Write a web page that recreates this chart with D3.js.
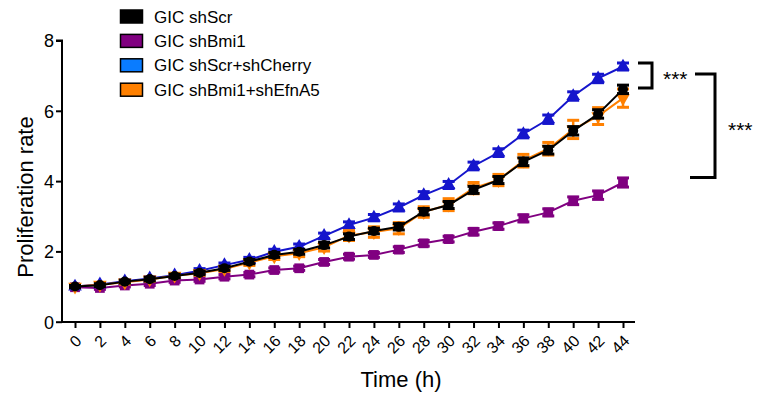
<!DOCTYPE html>
<html>
<head>
<meta charset="utf-8">
<script src="https://cdn.jsdelivr.net/npm/d3@7"></script>
<style>
  body { margin: 0; background: #fff; }
  svg text { font-family: "Liberation Sans", Arial, sans-serif; fill: #000; }
</style>
</head>
<body>
<svg id="chart" width="769" height="399"></svg>
<script>
// time points (h)
const hours = [0,2,4,6,8,10,12,14,16,18,20,22,24,26,28,30,32,34,36,38,40,42,44];

const shScr      = [1.00,1.04,1.14,1.21,1.30,1.39,1.52,1.71,1.90,1.99,2.18,2.42,2.58,2.70,3.13,3.32,3.75,4.03,4.55,4.88,5.43,5.91,6.61];
const shBmi1     = [0.98,0.96,1.03,1.08,1.17,1.20,1.28,1.34,1.47,1.52,1.70,1.85,1.90,2.05,2.23,2.35,2.56,2.72,2.94,3.11,3.44,3.60,3.96];
const shCherry   = [1.00,1.06,1.15,1.23,1.32,1.45,1.61,1.76,1.99,2.13,2.44,2.75,2.96,3.25,3.60,3.89,4.43,4.81,5.34,5.76,6.42,6.92,7.26];
const shEfnA5    = [1.00,1.05,1.12,1.20,1.31,1.38,1.50,1.68,1.86,1.95,2.12,2.45,2.55,2.66,3.12,3.33,3.80,4.03,4.58,4.92,5.47,5.85,6.36];

const errScr     = [0.03,0.04,0.04,0.05,0.05,0.05,0.06,0.06,0.07,0.07,0.08,0.08,0.08,0.09,0.09,0.10,0.10,0.10,0.11,0.11,0.12,0.12,0.12];
const errBmi1    = [0.03,0.04,0.04,0.05,0.05,0.05,0.06,0.06,0.06,0.06,0.07,0.07,0.07,0.08,0.08,0.08,0.09,0.09,0.10,0.10,0.11,0.12,0.13];
const errCherry  = [0.03,0.04,0.04,0.05,0.05,0.06,0.06,0.07,0.07,0.08,0.08,0.09,0.09,0.10,0.10,0.10,0.11,0.11,0.11,0.12,0.12,0.12,0.10];
const errEfnA5   = [0.03,0.04,0.05,0.05,0.06,0.06,0.07,0.08,0.09,0.10,0.11,0.14,0.15,0.16,0.15,0.17,0.16,0.16,0.18,0.18,0.26,0.24,0.26];

const legendLabels = ["GIC shScr", "GIC shBmi1", "GIC shScr+shCherry", "GIC shBmi1+shEfnA5"];
const yTicks = [0, 2, 4, 6, 8];

// significance brackets: [top value, bottom value]
const bracketSmall = [7.36, 6.65];
const bracketLarge = [7.05, 4.10];

const series = [
  {name: legendLabels[1], v: shBmi1,   e: errBmi1,   color: "#800080", box: "#800080", sym: d3.symbolSquare,   size: 95},
  {name: legendLabels[2], v: shCherry, e: errCherry, color: "#1515cc", box: "#0a7cff", sym: d3.symbolTriangle, size: 80},
  {name: legendLabels[3], v: shEfnA5,  e: errEfnA5,  color: "#ff8000", box: "#ff8000", sym: d3.symbolTriangle, size: 80, rot: 180},
  {name: legendLabels[0], v: shScr,    e: errScr,    color: "#000000", box: "#000000", sym: d3.symbolCircle,   size: 80}
];

const svg = d3.select("#chart");

const x = d3.scaleLinear().domain([0, 44]).range([75, 623]);
const y = d3.scaleLinear().domain([0, 8]).range([321.7, 40.5]);

// y axis
const yAxis = svg.append("g").attr("transform", "translate(62,0)")
  .call(d3.axisLeft(y).tickValues(yTicks).tickSize(6).tickPadding(2));
yAxis.select(".domain").attr("stroke", "#000").attr("stroke-width", 2).attr("d", "M-6,40.5H0V322");
yAxis.selectAll(".tick line").attr("stroke", "#000").attr("stroke-width", 2);
yAxis.selectAll(".tick text").style("font-size", "18px").attr("dy", "0.36em");

// x axis
const xAxis = svg.append("g").attr("transform", "translate(0,322)")
  .call(d3.axisBottom(x).tickValues(hours).tickSize(6).tickFormat(d3.format("d")));
xAxis.select(".domain").attr("stroke", "#000").attr("stroke-width", 2).attr("d", "M62,0H635");
xAxis.selectAll(".tick line").attr("stroke", "#000").attr("stroke-width", 2);
xAxis.selectAll(".tick text")
  .style("font-size", "16px")
  .attr("text-anchor", "end")
  .attr("y", 0).attr("dy", 0)
  .attr("transform", "translate(7,20) rotate(-45)");

// axis titles
svg.append("text").attr("x", 401).attr("y", 387).attr("text-anchor", "middle")
  .style("font-size", "22px").text("Time (h)");
svg.append("text").attr("transform", "translate(33,197) rotate(-90)").attr("text-anchor", "middle")
  .style("font-size", "22px").text("Proliferation rate");

// series
const line = d3.line().x((d, i) => x(hours[i])).y(d => y(d));

series.forEach(s => {
  const g = svg.append("g");
  g.append("path").datum(s.v).attr("d", line)
    .attr("fill", "none").attr("stroke", s.color).attr("stroke-width", 2);
  const pts = g.selectAll(".pt").data(s.v).enter().append("g")
    .attr("transform", (d, i) => `translate(${x(hours[i])},${y(d)})`);
  pts.append("line")
    .attr("x1", 0).attr("x2", 0)
    .attr("y1", (d, i) => y(d + s.e[i]) - y(d))
    .attr("y2", (d, i) => y(d - s.e[i]) - y(d))
    .attr("stroke", s.color).attr("stroke-width", 2.5);
  pts.append("line").attr("x1", -6).attr("x2", 6)
    .attr("y1", (d, i) => y(d + s.e[i]) - y(d)).attr("y2", (d, i) => y(d + s.e[i]) - y(d))
    .attr("stroke", s.color).attr("stroke-width", 3);
  pts.append("line").attr("x1", -6).attr("x2", 6)
    .attr("y1", (d, i) => y(d - s.e[i]) - y(d)).attr("y2", (d, i) => y(d - s.e[i]) - y(d))
    .attr("stroke", s.color).attr("stroke-width", 3);
  pts.append("path")
    .attr("d", d3.symbol().type(s.sym).size(s.size))
    .attr("transform", s.rot ? `rotate(${s.rot})` : null)
    .attr("fill", s.color);
});

// legend
const legendOrder = [3, 0, 1, 2];
const lg = svg.append("g").attr("transform", "translate(120,10)");
legendOrder.forEach((k, i) => {
  const s = series[k];
  const row = lg.append("g").attr("transform", `translate(0,${i * 24.4})`);
  row.append("rect").attr("x", 0.5).attr("y", 0).attr("width", 22).attr("height", 13)
    .attr("fill", s.box).attr("stroke", "#000").attr("stroke-width", 1.5);
  row.append("text").attr("x", 34).attr("y", 12.5).style("font-size", "17px").text(s.name);
});

// significance brackets
function bracket(xl, xr, vals, labelX) {
  const yt = y(vals[0]), yb = y(vals[1]);
  svg.append("path")
    .attr("d", `M${xl[0]},${yt}H${xr}V${yb}H${xl[1]}`)
    .attr("fill", "none").attr("stroke", "#000").attr("stroke-width", 3);
  svg.append("text").attr("x", labelX).attr("y", (yt + yb) / 2 + 11)
    .style("font-size", "21px").text("***");
}
bracket([638, 638], 652, bracketSmall, 663);
bracket([695, 690], 715, bracketLarge, 728);
</script>
</body>
</html>
